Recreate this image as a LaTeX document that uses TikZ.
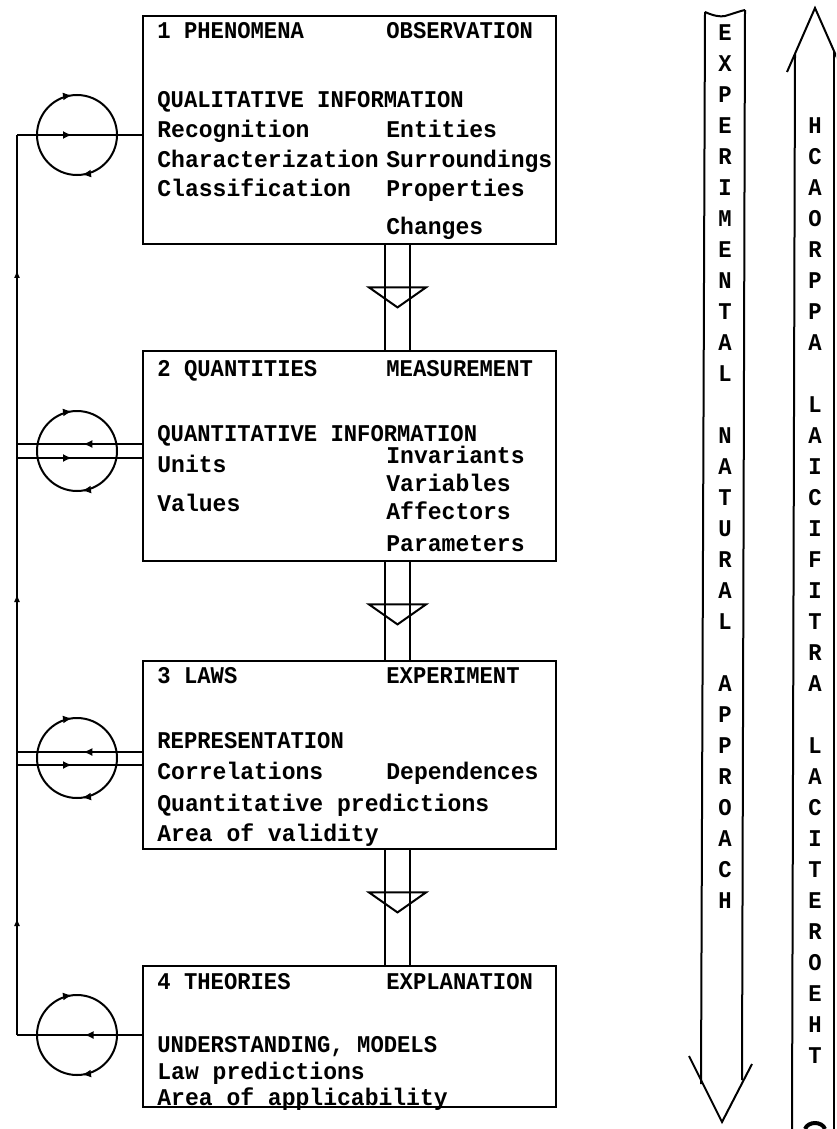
\documentclass[tikz,border=0pt]{standalone}
\usepackage{fontspec}
\setmonofont[FakeStretch=0.925]{Liberation Mono}
\newfontfamily\lowfont[FakeStretch=0.96]{Liberation Mono}
\usetikzlibrary{positioning, calc, arrows.meta, decorations.markings}

\tikzset{
  captxt/.style={font=\ttfamily\bfseries\fontsize{12}{14}\selectfont, inner sep=0pt, anchor=west,
    text height=8.5pt, text depth=2.5pt},
  lowtxt/.style={captxt, font=\lowfont\bfseries\fontsize{12}{14}\selectfont},
  bandtxt/.style={font=\ttfamily\bfseries\fontsize{12}{14}\selectfont, inner sep=0pt},
  stagebox/.style={draw, line width=1.2pt, inner sep=0pt, anchor=north west, minimum width=206.5pt},
  loopnode/.style={circle, inner sep=0pt, minimum size=40pt},
  looparrows/.style={line width=1pt, postaction={decorate}, decoration={markings,
      mark=at position 0.27 with {\arrowreversed{Latex[length=4.5pt, width=4pt]}},
      mark=at position 0.77 with {\arrowreversed{Latex[length=4.5pt, width=4pt]}}}},
  midarrow/.style={line width=1pt, postaction={decorate}, decoration={markings,
      mark=at position #1 with {\arrow{Latex[length=4.5pt, width=4pt]}}}},
  uparrows/.style={line width=0.9pt, postaction={decorate}, decoration={markings,
      mark=at position 0.13 with {\arrow{Latex[length=4pt, width=3pt]}},
      mark=at position 0.49 with {\arrow{Latex[length=4pt, width=3pt]}},
      mark=at position 0.85 with {\arrow{Latex[length=4pt, width=3pt]}}}},
}

\begin{document}
\begin{tikzpicture}[x=0.5pt, y=-0.5pt]
\useasboundingbox (0,0) rectangle (836,1129);
\clip (0,0) rectangle (836,1129);

%//the four stages
\foreach \n/\top/\h in {1/15/114, 2/350/105, 3/660/94, 4/965/70.5}
\node [stagebox, minimum height=\h pt] (box\n) at (142,\top) {};

\def\colA{157}
\def\colB{386}

\foreach \y/\val in {33/1 PHENOMENA, 102/QUALITATIVE INFORMATION,
  370/2 QUANTITIES, 435/QUANTITATIVE INFORMATION,
  677/3 LAWS, 742/REPRESENTATION,
  983/4 THEORIES, 1046/{UNDERSTANDING, MODELS}}
\node [captxt] (la\y) at (\colA,\y) {\val};

\foreach \y/\val in {132/Recognition, 161/Characterization, 190/Classification,
  466/Units, 505/Values,
  773/Correlations, 805/Quantitative predictions, 835/Area of validity,
  1073/Law predictions, 1099/Area of applicability}
\node [lowtxt] (la\y) at (\colA,\y) {\val};

\foreach \y/\val in {33/OBSERVATION, 370/MEASUREMENT, 677/EXPERIMENT, 983/EXPLANATION}
\node [captxt] (ri\y) at (\colB,\y) {\val};

\foreach \y/\val in {132/Entities, 161/Surroundings, 190/Properties, 228/Changes,
  457/Invariants, 485/Variables, 513/Affectors, 545/Parameters,
  773/Dependences}
\node [lowtxt] (ri\y) at (\colB,\y) {\val};

%//double lines with the open heads
\foreach \a/\b in {1/2, 2/3, 3/4} {
\draw [line width=0.8pt] ($(box\a.south west)+(243,0)$) -- ($(box\b.north west)+(243,0)$);
\draw [line width=0.8pt] ($(box\a.south west)+(268,0)$) -- ($(box\b.north west)+(268,0)$);
\draw [line width=1pt] ($(box\a.south west)+(227,42)$) -- ++(57,0) -- ++(-28.5,20) -- cycle;
}

%//loops on the left
\foreach \n/\y in {1/135, 2/451, 3/758, 4/1035} {
\node [loopnode] (loop\n) at (77,\y) {};
\draw [looparrows] (loop\n.center) circle [radius=20pt];
}

\coordinate (c1) at (17,135);
\coordinate (c2u) at (17,444);
\coordinate (c2d) at (17,458);
\coordinate (c3u) at (17,752);
\coordinate (c3d) at (17,765);
\coordinate (c4) at (17,1035);

\draw [midarrow=0.44] (c1) -- (c1 -| box1.west);
\draw [midarrow=0.47] (c2u -| box2.west) -- (c2u);
\draw [midarrow=0.44] (c2d) -- (c2d -| box2.west);
\draw [midarrow=0.47] (c3u -| box3.west) -- (c3u);
\draw [midarrow=0.44] (c3d) -- (c3d -| box3.west);
\draw [midarrow=0.46] (c4 -| box4.west) -- (c4);
\draw [uparrows] (c4) -- (c1);

%//experimental natural approach, pointing down
\draw [line width=1pt] (705,12) .. controls (714,16) and (720,17) .. (725,16)
  .. controls (732,14) and (740,11) .. (745,10);
\draw [line width=1pt] (705,12) -- (701,1084);
\draw [line width=1pt] (745,10) -- (742,1080);
\draw [line width=1pt] (689,1056) -- (722,1122) -- (752,1064);

\foreach \c [count=\i from 0] in {E,X,P,E,R,I,M,E,N,T,A,L,{},N,A,T,U,R,A,L,{},A,P,P,R,O,A,C,H}
\node [bandtxt] (exp\i) at (725,{33+31*\i}) {\c};

%//theoretical artificial approach, pointing up
\draw [line width=1pt] (787,72) -- (815,8) -- (845,76);
\draw [line width=1pt] (795,54) -- (792,1129);
\draw [line width=1pt] (834,51) -- (834,1129);
\draw [line width=2pt] (805,1129) .. controls (808,1121) and (822,1121) .. (825,1129);

\foreach \c [count=\i from 0] in {H,C,A,O,R,P,P,A,{},L,A,I,C,I,F,I,T,R,A,{},L,A,C,I,T,E,R,O,E,H,T}
\node [bandtxt] (the\i) at (815,{126+31*\i}) {\c};

\end{tikzpicture}
\end{document}
